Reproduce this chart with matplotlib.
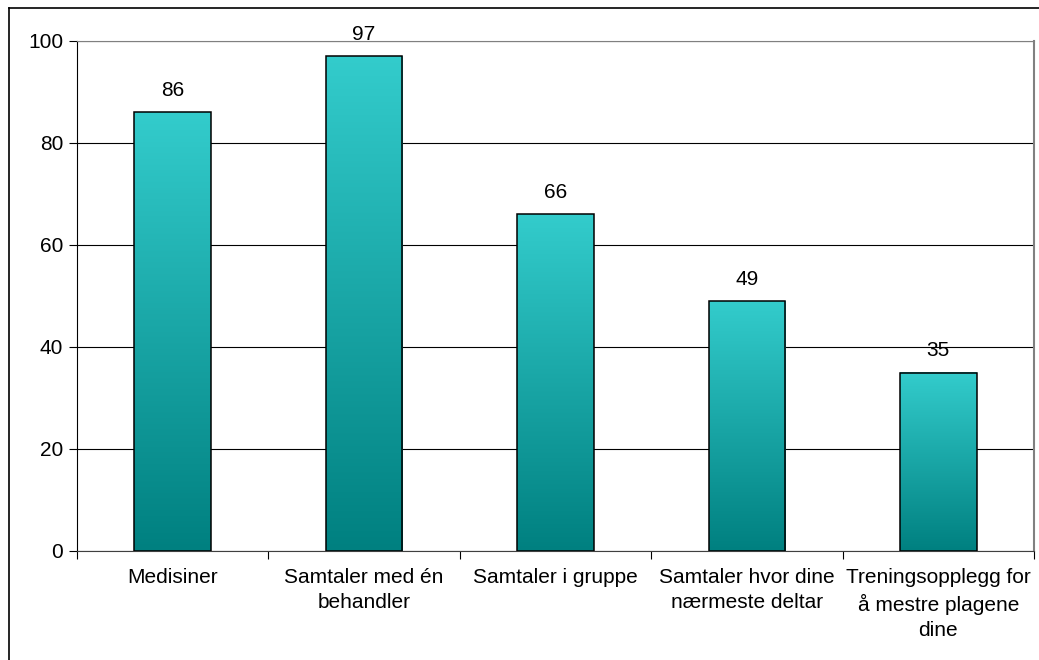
import matplotlib.pyplot as plt
import numpy as np
from matplotlib.colors import LinearSegmentedColormap
from matplotlib.lines import Line2D

plt.rcParams['font.family'] = ['Liberation Sans', 'DejaVu Sans']

categories = ["Medisiner", "Samtaler med én\nbehandler", "Samtaler i gruppe",
              "Samtaler hvor dine\nnærmeste deltar",
              "Treningsopplegg for\nå mestre plagene\ndine"]
values = [86, 97, 66, 49, 35]
yticks = [0, 20, 40, 60, 80, 100]

W, H = 1039, 660
fig = plt.figure(figsize=(W / 100, H / 100), dpi=100)
ax = fig.add_axes([77 / W, 1 - 551 / H, (1034 - 77) / W, (551 - 41) / H])

# outer frame (left and top visible, rest runs off the image)
fig.add_artist(Line2D([8.5 / W, 8.5 / W], [0, 1 - 7.5 / H], color='black', lw=1.2,
                      transform=fig.transFigure))
fig.add_artist(Line2D([8.5 / W, 1], [1 - 7.5 / H, 1 - 7.5 / H], color='black', lw=1.2,
                      transform=fig.transFigure))

cmap = LinearSegmentedColormap.from_list('teal', ['#008080', '#33CCCC'])
grad = np.linspace(0, 1, 256).reshape(-1, 1)

x = np.arange(len(values))
width = 0.4
ax.set_xlim(-0.5, len(values) - 0.5)
ax.set_ylim(0, 100)

for xi, v in zip(x, values):
    ax.imshow(grad, extent=(xi - width / 2, xi + width / 2, 0, v), origin='lower',
              cmap=cmap, aspect='auto', zorder=2, interpolation='bilinear')
    ax.bar(xi, v, width=width, facecolor='none', edgecolor='black', linewidth=1.1, zorder=3)
    ax.annotate(str(v), (xi, v), xytext=(0, 9), textcoords='offset points',
                ha='center', va='bottom', fontsize=15)

ax.set_yticks(yticks)
ax.set_yticklabels([str(t) for t in yticks], fontsize=15)
ax.yaxis.grid(True, color='black', linewidth=0.8)
ax.set_axisbelow(True)

ax.set_xticks(x)
ax.set_xticklabels(categories, fontsize=15, linespacing=1.4)
ax.set_xticks(np.arange(len(values) + 1) - 0.5, minor=True)
ax.tick_params(axis='x', which='major', length=0, pad=12)
ax.tick_params(axis='x', which='minor', length=6, width=0.8, direction='out')
ax.tick_params(axis='y', length=6, width=0.8, direction='out', pad=4)

ax.spines['left'].set_color('black')
ax.spines['bottom'].set_color('#404040')
ax.spines['top'].set_color('#808080')
ax.spines['right'].set_color('#808080')
ax.spines['right'].set_linewidth(1.5)

fig.savefig('out.png', dpi=100)
